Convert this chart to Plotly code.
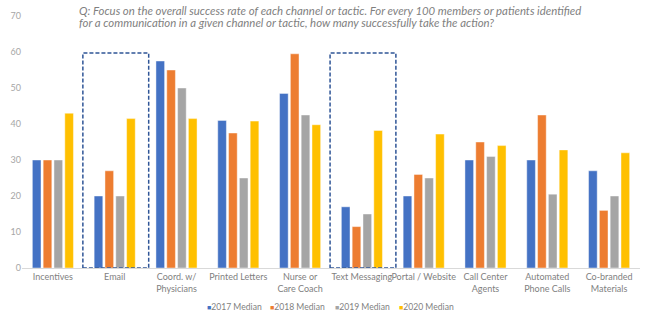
import plotly.graph_objects as go

categories = ["Incentives", "Email", "Coord. w/<br>Physicians", "Printed Letters",
              "Nurse or<br>Care Coach", "Text Messaging", "Portal / Website",
              "Call Center<br>Agents", "Automated<br>Phone Calls", "Co-branded<br>Materials"]
series_names = ["2017 Median", "2018 Median", "2019 Median", "2020 Median"]
v2017 = [30, 20, 57.5, 41, 48.5, 17, 20, 30, 30, 27]
v2018 = [30, 27, 55, 37.5, 59.5, 11.5, 26, 35, 42.5, 16]
v2019 = [30, 20, 50, 25, 42.5, 15, 25, 31, 20.5, 20]
v2020 = [43, 41.5, 41.5, 40.8, 39.8, 38.2, 37.2, 34, 32.8, 32]
colors = ["#4472C4", "#ED7D31", "#A5A5A5", "#FFC000"]
highlighted = [1, 5]  # Email, Text Messaging
y_ticks = [0, 10, 20, 30, 40, 50, 60, 70]
question_lines = [
    "Q: Focus on the overall success rate of each channel or tactic. For every 100 members or patients identified",
    "for a communication in a given channel or tactic, how many successfully take the action?",
]

FONT = "Lato, 'Open Sans', sans-serif"
L, R, T, B = 22, 10, 16, 54
W, H = 650, 322
pw = W - L - R
ph = H - T - B


def py(pix_y):
    """Paper y coordinate for a pixel row measured from the top of the page."""
    return (H - B - pix_y) / ph


def px(pix_x):
    return (pix_x - L) / pw


fig = go.Figure()
for name, vals, c in zip(series_names, [v2017, v2018, v2019, v2020], colors):
    fig.add_trace(go.Bar(x=list(range(len(categories))), y=vals, name=name, showlegend=False,
                         marker=dict(color=c, line=dict(color="rgba(255,255,255,0.55)", width=0.8))))

# dashed call-out boxes around the highlighted channels
for i in highlighted:
    fig.add_shape(type="rect", xref="x", yref="y", x0=i - 0.515, x1=i + 0.55, y0=0, y1=59.7,
                  line=dict(color="#2F5597", width=1.5, dash="4px,2px"), fillcolor="rgba(0,0,0,0)")

# question text above the chart, one annotation per line
for line, ly in zip(question_lines, [10, 22]):
    fig.add_annotation(xref="paper", yref="paper", x=px(77), y=py(ly),
                       xanchor="left", yanchor="middle", align="left", showarrow=False,
                       text=f"<i>{line}</i>",
                       font=dict(family=FONT, size=11.4, color="#7F7F7F"))

# compact legend with small square swatches
legend_x = [205, 268, 333, 397]
for name, c, lx in zip(series_names, colors, legend_x):
    fig.add_annotation(xref="paper", yref="paper", x=px(lx), y=py(307),
                       xanchor="left", yanchor="middle", showarrow=False,
                       text=f"<span style='color:{c}; font-size:7px'>■</span>{name}",
                       font=dict(family=FONT, size=8.6, color="#7F7F7F"))

fig.update_layout(
    width=W, height=H, margin=dict(l=L, r=R, t=T, b=B),
    paper_bgcolor="white", plot_bgcolor="white",
    barmode="group", bargap=0.30, bargroupgap=0.2,
    font=dict(family=FONT, color="#7F7F7F", size=9),
    showlegend=False,
    xaxis=dict(tickmode="array", tickvals=list(range(len(categories))), ticktext=categories,
               range=[-0.5, len(categories) - 0.5], showline=True, linecolor="#D9D9D9",
               ticks="", tickangle=0, tickfont=dict(family=FONT, size=9, color="#7F7F7F")),
    yaxis=dict(range=[0, 70], tickvals=y_ticks, showgrid=False, zeroline=False,
               showline=False, ticks="", tickfont=dict(family=FONT, size=9, color="#A6A6A6")),
)

fig.write_html("out.html")
